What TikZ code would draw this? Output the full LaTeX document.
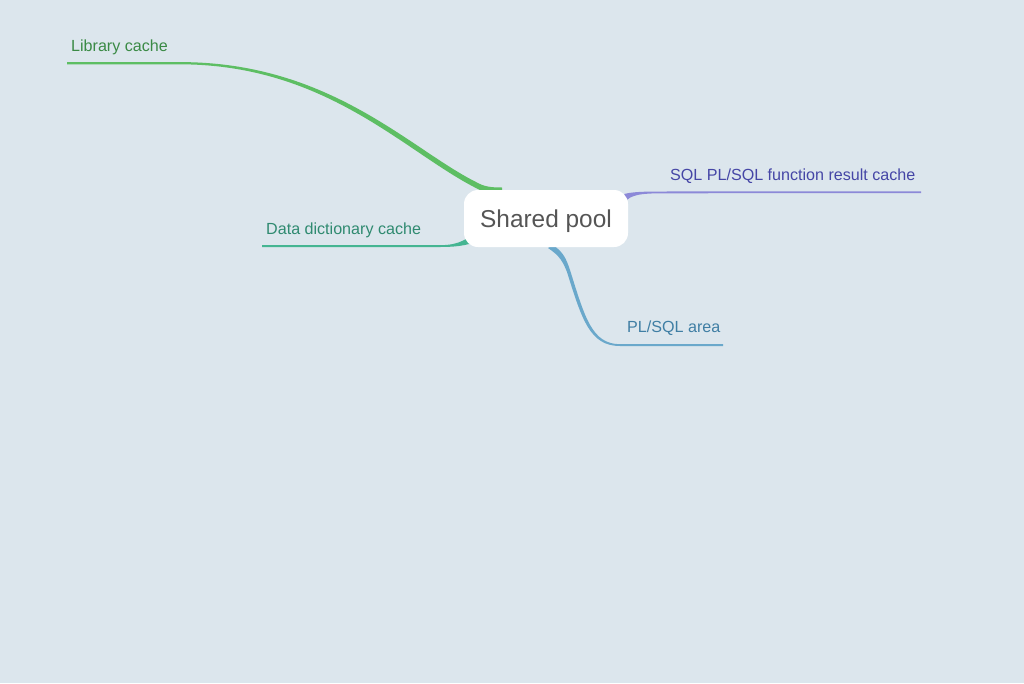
\documentclass[tikz,border=0pt]{standalone}
\usepackage{fontspec}
\setmainfont{Liberation Sans}
\definecolor{bg}{HTML}{DCE6ED}
\definecolor{lgreen}{HTML}{5DBE63}
\definecolor{tgreen}{HTML}{3A8A45}
\definecolor{lteal}{HTML}{45B592}
\definecolor{tteal}{HTML}{2F8A70}
\definecolor{lpurple}{HTML}{8C89D8}
\definecolor{tpurple}{HTML}{4546A6}
\definecolor{lblue}{HTML}{6AA8CB}
\definecolor{tblue}{HTML}{3F7EA4}
\definecolor{tcenter}{HTML}{555555}
\begin{document}
\begin{tikzpicture}[x=1pt,y=-1pt,
  lbl/.style={anchor=base west,inner sep=0pt,font=\fontsize{16.1}{19}\selectfont},
  centre/.style={fill=white,rounded corners=14pt,minimum width=164pt,minimum height=57pt,inner sep=0pt},
  centretext/.style={anchor=base,inner sep=0pt,text=tcenter,font=\fontsize{24.4}{29}\selectfont}]
\useasboundingbox[fill=bg] (0,0) rectangle (1024,683);

% branches (tapered)
\fill[lgreen] (67,62.1) -- (180,62.1) .. controls (330,62) and (410,149) .. (476,182)
  .. controls (484,186.5) and (490,187.5) .. (502,187.5) -- (502,193) -- (482,191)
  .. controls (408,156) and (330,64.6) .. (180,64.3) -- (67,64.3) -- cycle;
\fill[lteal] (262,245.2) -- (440,245.2) .. controls (462,245) and (465,238) .. (480,232)
  -- (482,240) .. controls (470,244) and (462,247) .. (440,247) -- (262,247) -- cycle;
\fill[lpurple] (610,200) .. controls (622,193) and (630,191.5) .. (660,191.5) -- (921,191.3)
  -- (921,193) -- (660,193.3) .. controls (635,193.5) and (628,196) .. (622,206) -- cycle;
\fill[lblue] (553,245) .. controls (563,252) and (566,258) .. (570,270)
  .. controls (585,318) and (592,344) .. (620,344.2) -- (723,344.2) -- (723,346) -- (620,346)
  .. controls (590,346) and (582,320) .. (567,272) .. controls (563,262) and (560,256) .. (548,248) -- cycle;

\node[centre] (sp) at (546,218.5) {};
\node[centretext] (spt) at (546,227) {Shared pool};

\node[lbl,text=tgreen] (lc) at (71,51) {Library cache};
\node[lbl,text=tteal] (dd) at (266,234) {Data dictionary cache};
\node[lbl,text=tpurple] (sq) at (670,180) {SQL PL/SQL function result cache};
\node[lbl,text=tblue] (pa) at (627,332) {PL/SQL area};
\end{tikzpicture}
\end{document}
